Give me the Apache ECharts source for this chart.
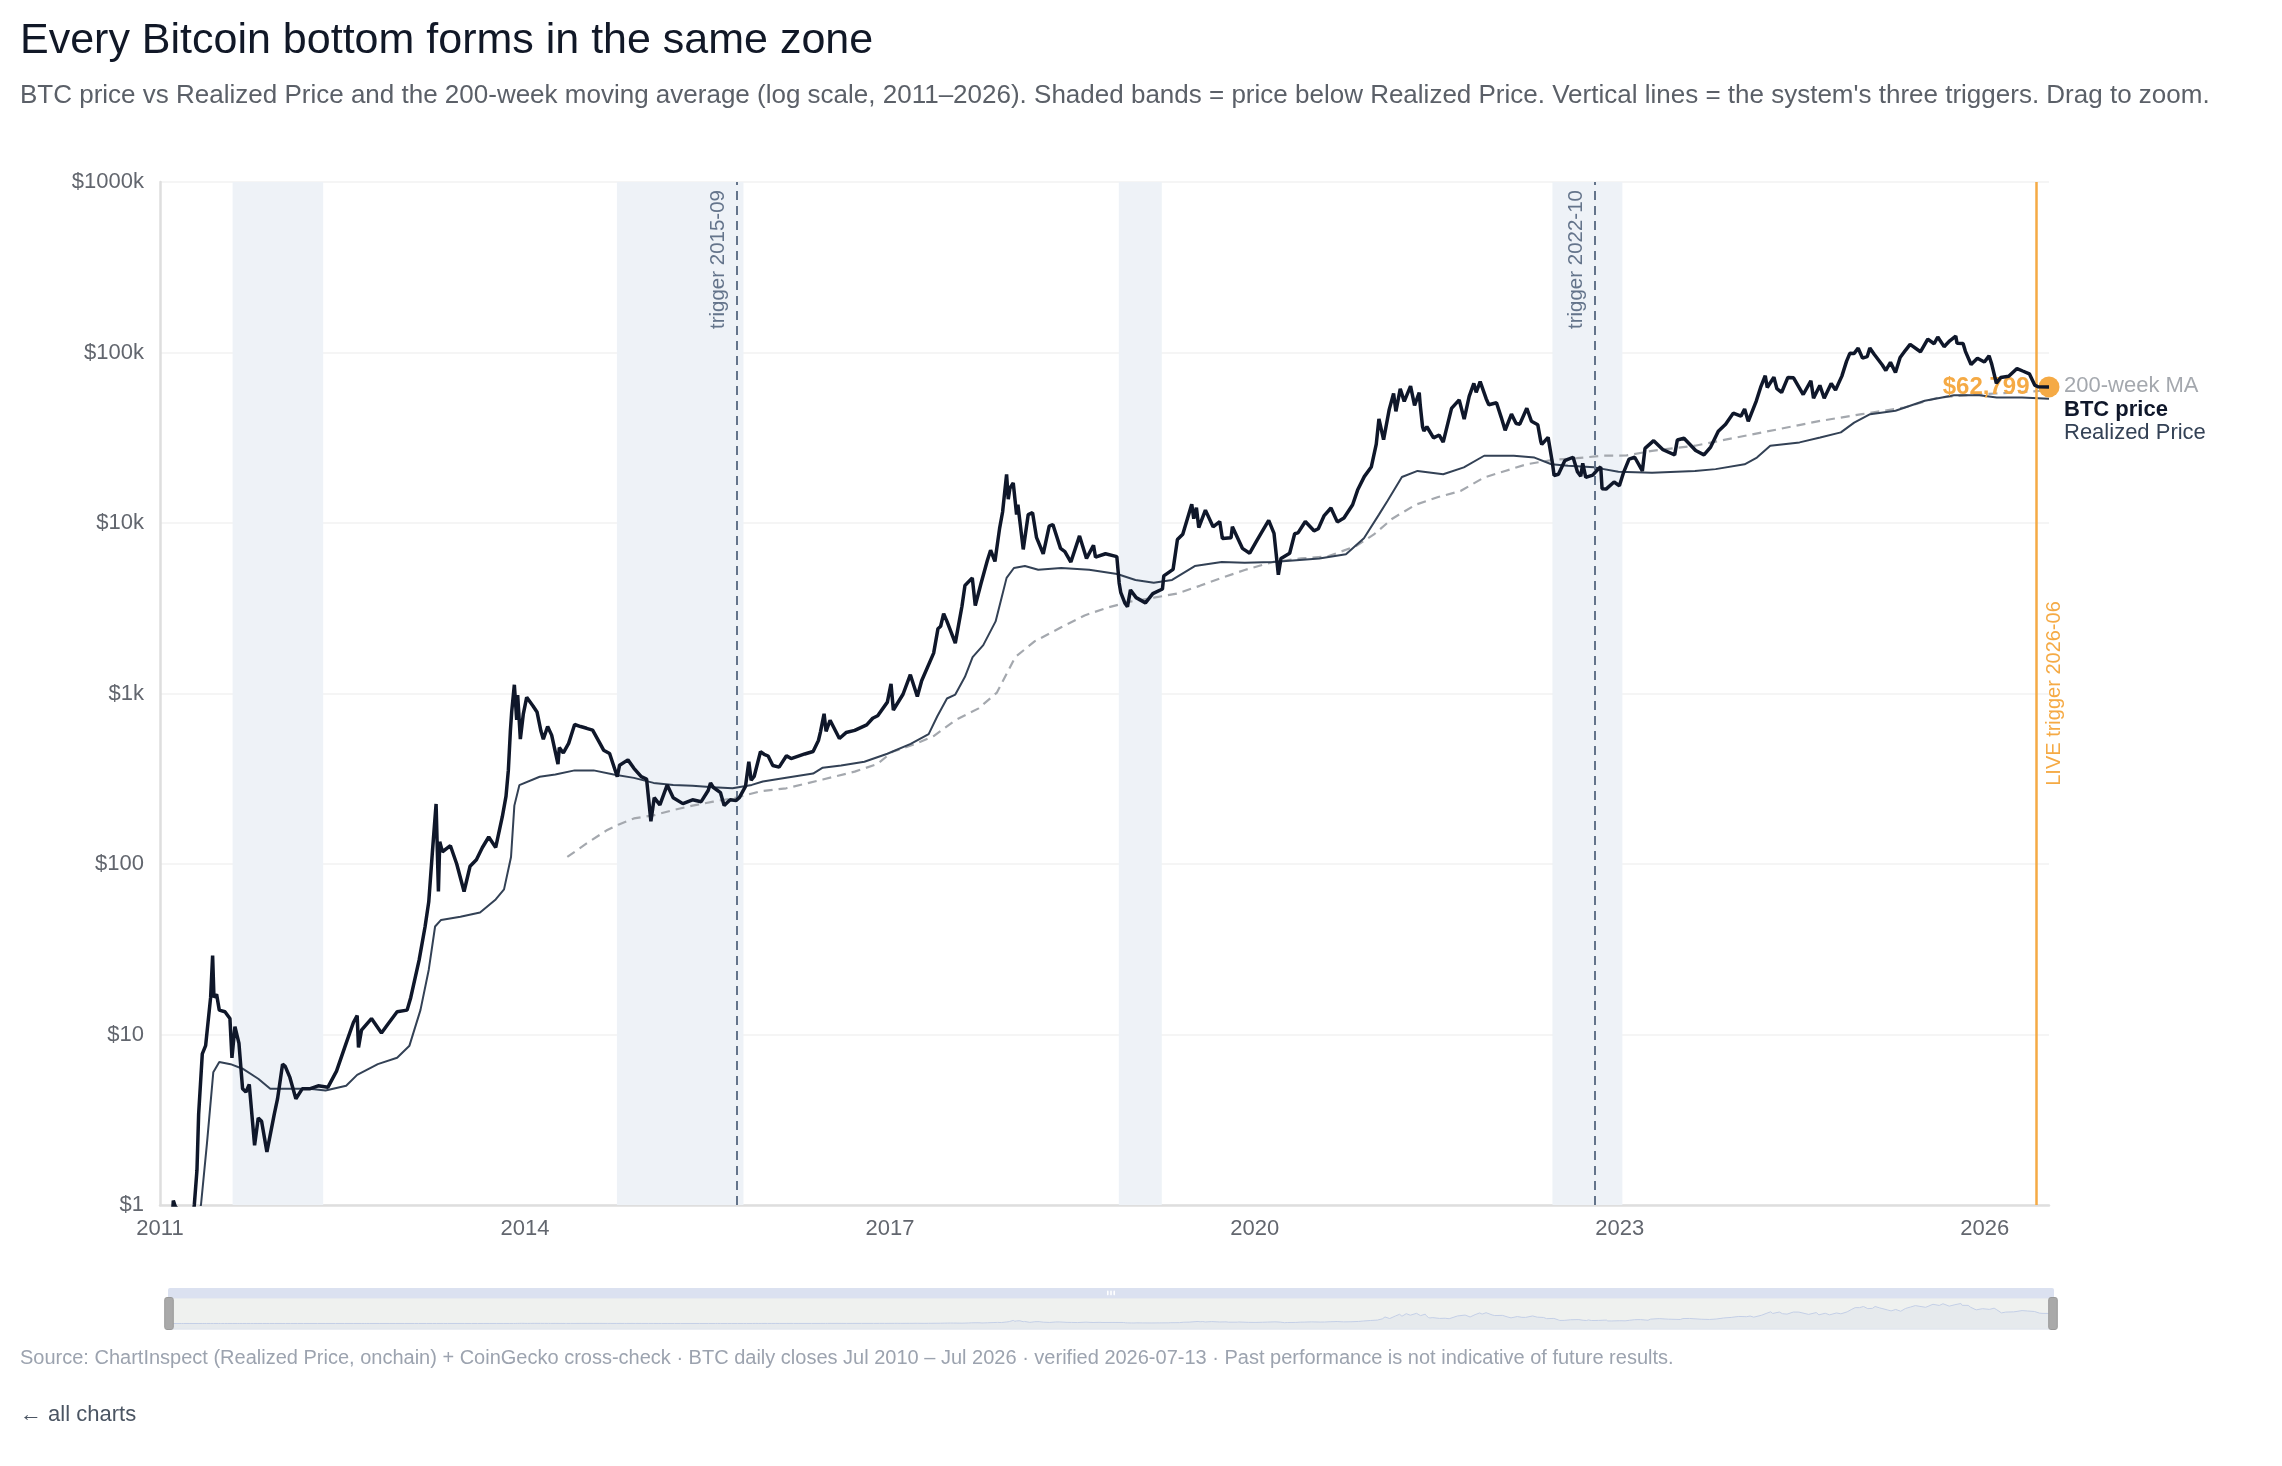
<!DOCTYPE html>
<html lang="en">
<head>
    <meta charset="UTF-8">
    <title>Every Bitcoin bottom forms in the same zone</title>
    <script src="https://cdn.jsdelivr.net/npm/echarts@6.0.0/dist/echarts.min.js"></script>
    <style>
        body {
            margin: 0;
            background: #fff;
            font-family: 'Liberation Sans', Arial, sans-serif;
        }
        .page {
            position: relative;
            width: 2282px;
            height: 1466px;
            overflow: hidden;
        }
        #chart {
            position: absolute;
            left: 0;
            top: 0;
            width: 2282px;
            height: 1466px;
        }
        h1 {
            position: absolute;
            left: 20px;
            top: 14px;
            margin: 0;
            font-size: 43px;
            font-weight: 400;
            color: #111827;
            white-space: nowrap;
        }
        .sub {
            position: absolute;
            left: 20px;
            top: 79px;
            margin: 0;
            font-size: 26px;
            color: #5b6068;
            white-space: nowrap;
        }
        .source {
            position: absolute;
            left: 20px;
            top: 1346px;
            font-size: 20px;
            color: #9ca3af;
            white-space: nowrap;
        }
        .back {
            position: absolute;
            left: 20px;
            top: 1401px;
            font-size: 22px;
            color: #4b5563;
            text-decoration: none;
        }
    </style>
</head>
<body>
<div class="page">
    <div id="chart"></div>
    <h1>Every Bitcoin bottom forms in the same zone</h1>
    <p class="sub">BTC price vs Realized Price and the 200-week moving average (log scale, 2011–2026). Shaded bands = price below Realized Price. Vertical lines = the system's three triggers. Drag to zoom.</p>
    <div class="source">Source: ChartInspect (Realized Price, onchain) + CoinGecko cross-check · BTC daily closes Jul 2010 – Jul 2026 · verified 2026-07-13 · Past performance is not indicative of future results.</div>
    <a class="back" href="#">← all charts</a>
</div>

<script>
    // BTC closing price (USD)
    const btcPrice = [
        ['2011-01-01', 0.30], ['2011-01-28', 0.42], ['2011-02-10', 1.06], ['2011-02-16', 0.98], ['2011-03-08', 0.88],
        ['2011-04-04', 0.68], ['2011-04-14', 1.0], ['2011-04-22', 1.6], ['2011-04-27', 3.4], ['2011-05-08', 7.7],
        ['2011-05-18', 8.6], ['2011-06-02', 16.5], ['2011-06-08', 29.0], ['2011-06-12', 16.5], ['2011-06-20', 17.2],
        ['2011-06-28', 13.9], ['2011-07-15', 13.6], ['2011-07-30', 12.4], ['2011-08-05', 7.3], ['2011-08-14', 11.1],
        ['2011-08-26', 8.9], ['2011-09-06', 4.8], ['2011-09-16', 4.6], ['2011-09-26', 5.1], ['2011-10-12', 2.24],
        ['2011-10-23', 3.24], ['2011-11-02', 3.1], ['2011-11-18', 2.05], ['2011-12-10', 3.4], ['2011-12-20', 4.2],
        ['2012-01-04', 6.7], ['2012-01-12', 6.5], ['2012-01-26', 5.6], ['2012-02-13', 4.2], ['2012-03-03', 4.8],
        ['2012-03-25', 4.8], ['2012-04-20', 5.0], ['2012-05-19', 4.9], ['2012-06-14', 6.1], ['2012-07-13', 8.9],
        ['2012-08-04', 11.8], ['2012-08-15', 12.9], ['2012-08-19', 8.4], ['2012-08-28', 10.6], ['2012-09-27', 12.4],
        ['2012-10-27', 10.2], ['2012-11-14', 11.4], ['2012-12-13', 13.6],
        ['2013-01-12', 13.9], ['2013-01-23', 16.5], ['2013-02-17', 27.3], ['2013-03-07', 43], ['2013-03-18', 60],
        ['2013-03-29', 118], ['2013-04-09', 225], ['2013-04-16', 69], ['2013-04-20', 135], ['2013-04-28', 118],
        ['2013-05-22', 128], ['2013-06-10', 100], ['2013-07-02', 69], ['2013-07-20', 97], ['2013-08-08', 106],
        ['2013-08-26', 125], ['2013-09-14', 144], ['2013-10-05', 125], ['2013-10-25', 190], ['2013-11-05', 250],
        ['2013-11-12', 355], ['2013-11-18', 600], ['2013-11-22', 780], ['2013-11-30', 1125], ['2013-12-07', 700],
        ['2013-12-10', 980], ['2013-12-18', 540], ['2013-12-27', 760],
        ['2014-01-06', 950], ['2014-01-25', 845], ['2014-02-06', 780], ['2014-02-18', 600], ['2014-02-25', 540],
        ['2014-03-10', 640], ['2014-03-22', 570], ['2014-04-10', 385], ['2014-04-14', 482], ['2014-04-26', 448],
        ['2014-05-12', 510], ['2014-05-30', 658], ['2014-06-17', 640], ['2014-07-05', 625], ['2014-07-23', 610],
        ['2014-08-14', 510], ['2014-08-25', 465], ['2014-09-12', 445], ['2014-10-05', 325], ['2014-10-12', 380],
        ['2014-11-06', 408], ['2014-11-24', 364], ['2014-12-16', 325],
        ['2015-01-01', 315], ['2015-01-14', 178], ['2015-01-24', 245], ['2015-02-10', 222], ['2015-03-04', 291],
        ['2015-03-22', 245], ['2015-04-20', 226], ['2015-05-19', 238], ['2015-06-14', 232], ['2015-07-05', 270],
        ['2015-07-12', 299], ['2015-07-20', 282], ['2015-08-11', 262], ['2015-08-22', 220], ['2015-09-09', 238],
        ['2015-09-27', 236], ['2015-10-07', 246], ['2015-10-25', 285], ['2015-11-04', 398], ['2015-11-11', 310],
        ['2015-11-20', 326], ['2015-12-09', 455], ['2015-12-20', 440],
        ['2016-01-01', 430], ['2016-01-15', 378], ['2016-02-03', 370], ['2016-02-25', 431], ['2016-03-10', 415],
        ['2016-04-20', 442], ['2016-05-15', 457], ['2016-05-31', 530], ['2016-06-06', 594], ['2016-06-17', 760],
        ['2016-06-23', 600], ['2016-07-05', 697], ['2016-08-02', 545], ['2016-08-22', 590], ['2016-09-17', 608],
        ['2016-10-23', 655], ['2016-11-10', 716], ['2016-11-25', 740], ['2016-12-24', 890],
        ['2017-01-04', 1140], ['2017-01-11', 800], ['2017-02-09', 990], ['2017-03-03', 1289], ['2017-03-24', 960],
        ['2017-04-06', 1189], ['2017-05-12', 1726], ['2017-05-25', 2400], ['2017-06-02', 2480], ['2017-06-11', 2943],
        ['2017-06-21', 2649], ['2017-07-16', 1974], ['2017-08-05', 3250], ['2017-08-14', 4300], ['2017-09-05', 4766],
        ['2017-09-14', 3280], ['2017-10-01', 4400], ['2017-10-20', 6000], ['2017-10-30', 6925], ['2017-11-12', 5950],
        ['2017-11-26', 9300], ['2017-12-05', 11600], ['2017-12-17', 19300], ['2017-12-22', 13800], ['2017-12-27', 16000],
        ['2018-01-06', 17150], ['2018-01-16', 11200], ['2018-01-20', 12800], ['2018-02-05', 7000], ['2018-02-20', 11200],
        ['2018-03-05', 11500], ['2018-03-17', 8200], ['2018-04-06', 6600], ['2018-04-24', 9600], ['2018-05-05', 9800],
        ['2018-05-28', 7100], ['2018-06-10', 6800], ['2018-06-28', 5900], ['2018-07-24', 8400], ['2018-08-14', 6200],
        ['2018-09-04', 7400], ['2018-09-10', 6300], ['2018-10-10', 6600], ['2018-11-13', 6350], ['2018-11-20', 4450],
        ['2018-11-25', 3900], ['2018-12-07', 3400], ['2018-12-15', 3230], ['2018-12-24', 4050],
        ['2019-01-10', 3650], ['2019-02-07', 3400], ['2019-03-01', 3850], ['2019-03-30', 4100], ['2019-04-03', 4900],
        ['2019-05-01', 5350], ['2019-05-14', 8000], ['2019-05-30', 8600], ['2019-06-26', 12900], ['2019-07-02', 10600],
        ['2019-07-10', 12300], ['2019-07-17', 9400], ['2019-08-06', 11900], ['2019-08-29', 9500], ['2019-09-18', 10200],
        ['2019-09-26', 8100], ['2019-10-22', 8200], ['2019-10-26', 9500], ['2019-11-25', 7100], ['2019-12-17', 6650],
        ['2020-01-06', 7800], ['2020-01-20', 8700], ['2020-02-12', 10350], ['2020-02-28', 8700], ['2020-03-12', 4970],
        ['2020-03-20', 6200], ['2020-04-15', 6650], ['2020-04-30', 8650], ['2020-05-10', 8750], ['2020-06-01', 10200],
        ['2020-06-27', 9000], ['2020-07-10', 9250], ['2020-07-27', 11000], ['2020-08-17', 12250], ['2020-09-05', 10150],
        ['2020-09-25', 10700], ['2020-10-21', 12800], ['2020-11-05', 15600], ['2020-11-25', 18700], ['2020-12-16', 21300],
        ['2020-12-31', 29000],
        ['2021-01-08', 40800], ['2021-01-22', 30800], ['2021-02-08', 46400], ['2021-02-21', 57500], ['2021-02-28', 45200],
        ['2021-03-13', 61200], ['2021-03-25', 51700], ['2021-04-13', 63500], ['2021-04-25', 49000], ['2021-05-09', 58200],
        ['2021-05-12', 49200], ['2021-05-19', 36700], ['2021-05-23', 34700], ['2021-06-01', 36700], ['2021-06-21', 31600],
        ['2021-07-08', 32800], ['2021-07-20', 29800], ['2021-08-14', 47000], ['2021-09-06', 52700], ['2021-09-21', 40700],
        ['2021-10-06', 55300], ['2021-10-20', 65900], ['2021-10-27', 58400], ['2021-11-08', 67500], ['2021-11-26', 53600],
        ['2021-12-04', 49400], ['2021-12-27', 50700],
        ['2022-01-10', 41800], ['2022-01-22', 35000], ['2022-02-10', 43500], ['2022-02-24', 38300], ['2022-03-07', 38000],
        ['2022-03-28', 47100], ['2022-04-11', 39500], ['2022-04-30', 37700], ['2022-05-09', 30100], ['2022-05-12', 28900],
        ['2022-05-31', 31800], ['2022-06-13', 22500], ['2022-06-18', 19000], ['2022-07-01', 19300], ['2022-07-20', 23200],
        ['2022-08-14', 24300], ['2022-08-27', 20000], ['2022-09-06', 18800], ['2022-09-12', 22400], ['2022-09-21', 18500],
        ['2022-10-12', 19100], ['2022-10-29', 20800], ['2022-11-05', 21300], ['2022-11-09', 15900], ['2022-11-21', 15800],
        ['2022-12-15', 17400], ['2022-12-31', 16550],
        ['2023-01-13', 19900], ['2023-01-29', 23700], ['2023-02-15', 24300], ['2023-03-10', 20200], ['2023-03-18', 27400],
        ['2023-04-13', 30400], ['2023-05-11', 26900], ['2023-06-15', 25100], ['2023-06-23', 30700], ['2023-07-13', 31400],
        ['2023-08-17', 26600], ['2023-09-11', 25100], ['2023-10-01', 27900], ['2023-10-24', 34500], ['2023-11-15', 37900],
        ['2023-12-08', 44100], ['2023-12-31', 42300],
        ['2024-01-11', 46600], ['2024-01-22', 39500], ['2024-02-15', 51900], ['2024-02-28', 62400], ['2024-03-13', 73100],
        ['2024-03-19', 62400], ['2024-04-08', 71600], ['2024-04-17', 61300], ['2024-05-01', 58300], ['2024-05-20', 71400],
        ['2024-06-06', 71100], ['2024-07-05', 56700], ['2024-07-28', 68200], ['2024-08-05', 54000], ['2024-08-24', 64100],
        ['2024-09-06', 53900], ['2024-09-27', 65800], ['2024-10-10', 60300], ['2024-10-29', 72700], ['2024-11-12', 88700],
        ['2024-11-22', 98900], ['2024-12-05', 98800], ['2024-12-17', 106000], ['2024-12-30', 92700],
        ['2025-01-13', 94500], ['2025-01-21', 106100], ['2025-02-03', 97700], ['2025-02-27', 84700], ['2025-03-10', 78500],
        ['2025-03-24', 87500], ['2025-04-08', 76300], ['2025-04-22', 93400], ['2025-05-08', 103000], ['2025-05-22', 111600],
        ['2025-06-22', 101000], ['2025-07-14', 119800], ['2025-08-02', 112500], ['2025-08-13', 123300], ['2025-09-01', 108200],
        ['2025-09-18', 117100], ['2025-10-06', 124700], ['2025-10-10', 113200], ['2025-10-28', 113000], ['2025-11-04', 101600],
        ['2025-11-21', 85000], ['2025-12-10', 92500], ['2025-12-31', 88000],
        ['2026-01-14', 95600], ['2026-01-22', 85500], ['2026-02-05', 66000], ['2026-02-18', 71300], ['2026-03-14', 72500],
        ['2026-04-08', 80500], ['2026-04-25', 77900], ['2026-05-15', 75000], ['2026-05-31', 64400], ['2026-06-10', 63000],
        ['2026-07-13', 62799]
    ];

    // Realized Price (USD)
    const realizedPrice = [
        ['2011-01-01', 0.25], ['2011-03-01', 0.4], ['2011-04-10', 0.7], ['2011-05-04', 1.0], ['2011-05-22', 2.3],
        ['2011-06-10', 6.0], ['2011-06-28', 6.9], ['2011-08-01', 6.7], ['2011-09-06', 6.3], ['2011-10-23', 5.5],
        ['2011-11-28', 4.8], ['2012-01-26', 4.8], ['2012-03-25', 4.8], ['2012-05-12', 4.7], ['2012-07-13', 5.0],
        ['2012-08-15', 5.8], ['2012-10-16', 6.7], ['2012-12-13', 7.3], ['2013-01-19', 8.6], ['2013-02-21', 13.9],
        ['2013-03-18', 24], ['2013-04-06', 43], ['2013-04-24', 47], ['2013-06-21', 49], ['2013-08-19', 52],
        ['2013-10-05', 62], ['2013-10-30', 71], ['2013-11-20', 110], ['2013-11-30', 220], ['2013-12-15', 290],
        ['2014-02-14', 325], ['2014-04-02', 335], ['2014-05-30', 354], ['2014-07-26', 354], ['2014-09-24', 335],
        ['2014-11-24', 320], ['2015-01-22', 299], ['2015-03-22', 291], ['2015-05-19', 288], ['2015-07-20', 282],
        ['2015-09-16', 278], ['2015-11-13', 291], ['2015-12-16', 305], ['2016-02-24', 321], ['2016-05-15', 339],
        ['2016-06-13', 367], ['2016-08-07', 378], ['2016-10-16', 398], ['2016-12-24', 443], ['2017-03-04', 506],
        ['2017-04-27', 578], ['2017-05-23', 736], ['2017-06-21', 935], ['2017-07-16', 986], ['2017-08-14', 1253],
        ['2017-09-06', 1636], ['2017-10-08', 1922], ['2017-11-14', 2648], ['2017-12-02', 3646], ['2017-12-17', 4766],
        ['2018-01-08', 5445], ['2018-02-10', 5590], ['2018-03-22', 5320], ['2018-05-30', 5445], ['2018-08-22', 5320],
        ['2018-11-14', 5020], ['2019-01-08', 4635], ['2019-03-04', 4460], ['2019-04-28', 4635], ['2019-07-05', 5590],
        ['2019-09-24', 5900], ['2019-12-02', 5850], ['2020-02-24', 5900], ['2020-05-05', 6050], ['2020-07-13', 6200],
        ['2020-10-01', 6560], ['2020-11-24', 8130], ['2021-01-08', 11200], ['2021-02-03', 13500], ['2021-03-18', 18600],
        ['2021-05-04', 20200], ['2021-07-20', 19300], ['2021-09-20', 21200], ['2021-11-20', 24800], ['2022-02-17', 24800],
        ['2022-04-20', 24200], ['2022-06-10', 22100], ['2022-07-30', 21700], ['2022-10-16', 21200], ['2022-12-28', 20000],
        ['2023-04-08', 19700], ['2023-08-15', 20200], ['2023-10-16', 20700], ['2024-01-11', 22100], ['2024-02-17', 24200],
        ['2024-03-28', 28400], ['2024-06-24', 29700], ['2024-08-25', 31700], ['2024-10-26', 34000], ['2024-12-05', 38800],
        ['2025-01-22', 43500], ['2025-04-08', 45500], ['2025-07-05', 52100], ['2025-10-01', 56200], ['2025-12-16', 56200],
        ['2026-02-06', 54500], ['2026-04-23', 54500], ['2026-07-13', 53500]
    ];

    // 200-week moving average (USD)
    const ma200w = [
        ['2014-05-08', 110], ['2014-07-05', 132], ['2014-09-02', 157], ['2014-10-08', 170], ['2014-11-24', 185],
        ['2015-01-22', 193], ['2015-03-22', 207], ['2015-05-19', 220], ['2015-07-20', 232], ['2015-09-27', 245],
        ['2015-12-09', 267], ['2016-02-24', 278], ['2016-06-13', 313], ['2016-09-17', 348], ['2016-11-25', 387],
        ['2017-01-08', 455], ['2017-03-18', 506], ['2017-05-12', 563], ['2017-07-16', 697], ['2017-09-24', 818],
        ['2017-11-18', 1013], ['2018-01-12', 1636], ['2018-03-12', 2028], ['2018-05-30', 2444], ['2018-08-08', 2870],
        ['2018-10-16', 3192], ['2018-12-24', 3460], ['2019-03-04', 3650], ['2019-05-12', 3850], ['2019-07-20', 4280],
        ['2019-09-24', 4770], ['2019-12-02', 5300], ['2020-02-24', 5900], ['2020-05-20', 6200], ['2020-08-08', 6380],
        ['2020-10-30', 7300], ['2020-12-24', 8570], ['2021-02-17', 10600], ['2021-04-28', 12800], ['2021-07-05', 14200],
        ['2021-09-10', 15400], ['2021-11-20', 18500], ['2022-01-22', 20200], ['2022-03-28', 22100], ['2022-06-10', 23400],
        ['2022-08-25', 24000], ['2022-11-10', 24800], ['2023-01-22', 24900], ['2023-04-08', 26500], ['2023-08-15', 28400],
        ['2023-12-16', 31700], ['2024-04-22', 35500], ['2024-08-25', 39700], ['2024-12-28', 43500], ['2025-05-05', 47600],
        ['2025-08-15', 54500], ['2025-11-10', 56200], ['2026-02-06', 57500], ['2026-05-15', 59000], ['2026-07-13', 60000]
    ];

    // Periods with price below Realized Price
    const belowRealized = [
        ['2011-08-07', '2012-05-05'],
        ['2014-10-04', '2015-10-19'],
        ['2018-11-19', '2019-03-28'],
        ['2022-06-13', '2023-01-09']
    ];

    // System triggers
    const triggers = [
        ['2015-09-28', 'trigger 2015-09'],
        ['2022-10-19', 'trigger 2022-10']
    ];
    const liveTrigger = ['2026-06-05', 'LIVE trigger 2026-06'];

    const ORANGE = '#f5aa45';
    const last = btcPrice[btcPrice.length - 1];

    function fmtPrice(v) {
        return v >= 1000 ? '$' + (v / 1000) + 'k' : '$' + v;
    }

    const chart = echarts.init(document.getElementById('chart'));

    const option = {
        animation: false,
        textStyle: { fontFamily: "'Liberation Sans', Arial, sans-serif" },
        grid: { left: 160, right: 233, top: 182, bottom: 261 },
        tooltip: { trigger: 'axis' },
        xAxis: {
            type: 'time',
            min: '2011-01-01',
            max: last[0],
            splitNumber: 5,
            axisLine: { lineStyle: { color: '#dedede', width: 2.5 } },
            axisTick: { show: false },
            splitLine: { show: false },
            axisLabel: {
                formatter: v => String(new Date(v).getFullYear()),
                color: '#62666e',
                fontSize: 22,
                margin: 13
            }
        },
        yAxis: {
            type: 'log',
            logBase: 10,
            min: 1,
            max: 1000000,
            axisLine: { show: true, lineStyle: { color: '#dedede', width: 2.5 } },
            axisTick: { show: false },
            splitLine: { lineStyle: { color: '#f2f2f2', width: 1.5 } },
            axisLabel: { formatter: fmtPrice, color: '#62666e', fontSize: 22, margin: 16 }
        },
        dataZoom: [
            { type: 'inside' },
            {
                type: 'slider',
                left: 164,
                right: 232,
                top: 1288,
                height: 32,
                moveHandleSize: 10,
                moveHandleStyle: { color: '#dbe1f0', opacity: 1 },
                fillerColor: 'rgba(226,230,226,0.55)',
                borderColor: '#dfe4ee',
                dataBackground: {
                    lineStyle: { color: '#9fb4ec', width: 1 },
                    areaStyle: { color: '#c9d3f2', opacity: 0.35 }
                },
                selectedDataBackground: {
                    lineStyle: { color: '#9fb4ec', width: 1 },
                    areaStyle: { color: '#c9d3f2', opacity: 0.35 }
                },
                handleIcon: 'path://M2,0h4a2,2,0,0,1,2,2v26a2,2,0,0,1-2,2h-4a2,2,0,0,1-2-2v-26a2,2,0,0,1,2-2z',
                handleSize: '100%',
                handleStyle: { color: '#a9a9a9', borderColor: '#999' },
                showDetail: false
            }
        ],
        series: [
            {
                name: 'BTC price',
                type: 'line',
                data: btcPrice,
                showSymbol: false,
                z: 5,
                lineStyle: { color: '#0f172a', width: 3.5 },
                itemStyle: { color: '#0f172a' },
                endLabel: {
                    show: true,
                    formatter: 'BTC price',
                    color: '#0f172a',
                    fontWeight: 'bold',
                    fontSize: 22,
                    distance: 15,
                    offset: [0, 23]
                },
                markPoint: {
                    silent: true,
                    symbol: 'circle',
                    symbolSize: 21,
                    itemStyle: { color: ORANGE },
                    label: {
                        show: true,
                        position: 'left',
                        distance: 9,
                        formatter: () => '$' + last[1].toLocaleString('en-US'),
                        color: ORANGE,
                        fontWeight: 'bold',
                        fontSize: 24
                    },
                    data: [{ coord: last }]
                }
            },
            {
                name: 'Realized Price',
                type: 'line',
                data: realizedPrice,
                showSymbol: false,
                z: 4,
                lineStyle: { color: '#334155', width: 2 },
                itemStyle: { color: '#334155' },
                endLabel: {
                    show: true,
                    formatter: 'Realized Price',
                    color: '#334155',
                    fontSize: 22,
                    distance: 15,
                    offset: [0, 34]
                }
            },
            {
                name: '200-week MA',
                type: 'line',
                data: ma200w,
                showSymbol: false,
                z: 3,
                lineStyle: { color: '#a4a8ae', width: 2.2, type: [9, 6] },
                itemStyle: { color: '#a4a8ae' },
                endLabel: {
                    show: true,
                    formatter: '200-week MA',
                    color: '#a4a8ae',
                    fontSize: 22,
                    distance: 15,
                    offset: [0, -4]
                }
            },
            {
                // bands + trigger lines
                name: 'zones',
                type: 'line',
                data: [],
                z: 1,
                silent: true,
                markArea: {
                    silent: true,
                    itemStyle: { color: '#eef2f7' },
                    data: belowRealized.map(b => [{ xAxis: b[0] }, { xAxis: b[1] }])
                },
                markLine: {
                    silent: true,
                    symbol: 'none',
                    lineStyle: { color: '#64748b', width: 2, type: [9, 6] },
                    label: {
                        position: 'insideEndTop',
                        color: '#64748b',
                        fontSize: 20.5,
                        distance: 8
                    },
                    data: triggers.map(t => ({ xAxis: t[0], label: { formatter: t[1] } })).concat([{
                        xAxis: liveTrigger[0],
                        lineStyle: { color: ORANGE, width: 2.5, type: 'solid' },
                        label: { formatter: liveTrigger[1], position: 'insideMiddleBottom', color: ORANGE, fontSize: 20, distance: 8 }
                    }])
                }
            }
        ]
    };

    chart.setOption(option);
</script>
</body>
</html>
